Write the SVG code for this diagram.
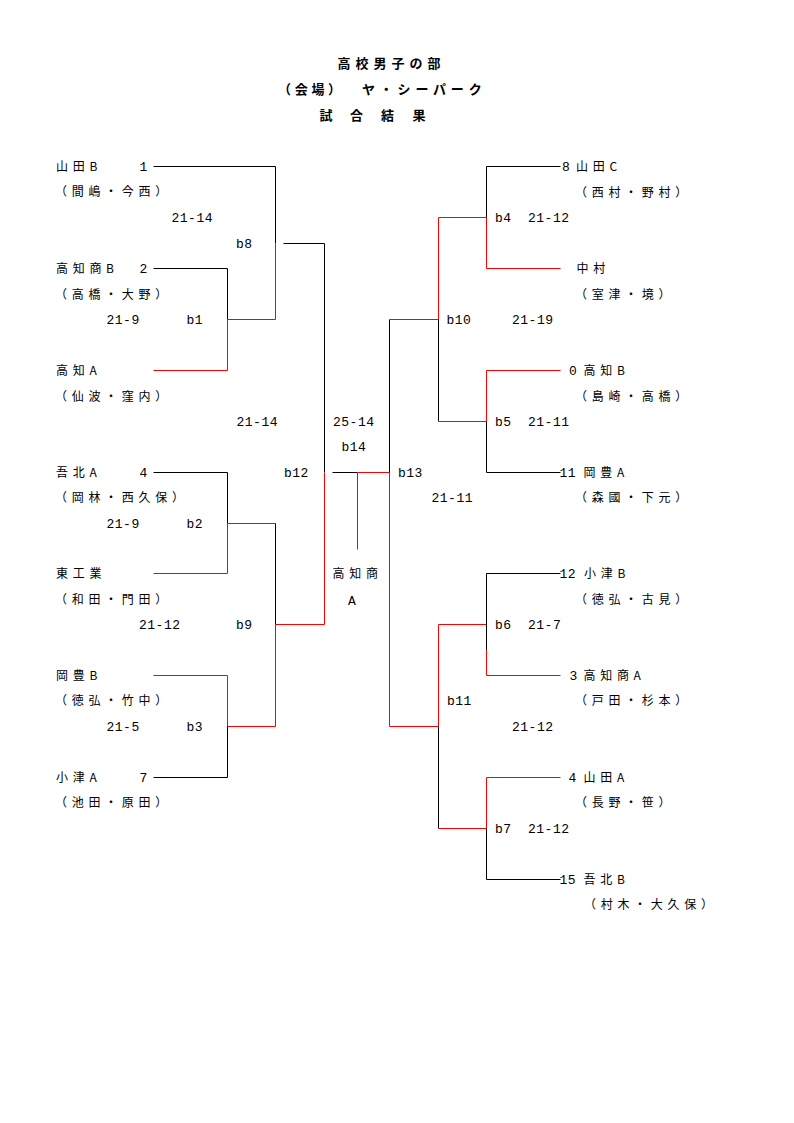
<svg xmlns="http://www.w3.org/2000/svg" width="794" height="1123" viewBox="0 0 794 1123">
<style>
.t{font-family:"Noto Sans CJK JP","Noto Sans CJK SC",sans-serif;font-size:12px;letter-spacing:4.7px;fill:#000}
.n{font-family:"Liberation Mono","DejaVu Sans Mono",monospace;font-size:13px;letter-spacing:0.5px;fill:#000}
.h{font-family:"Noto Sans CJK JP","Noto Sans CJK SC",sans-serif;font-size:13px;font-weight:bold;fill:#000}
.k{fill:none;stroke:#000;stroke-width:1}
.r{fill:none;stroke:#ff0000;stroke-width:1}
</style>
<rect width="794" height="1123" fill="#fff"/>
<g id="title">
<text class="h" x="337.5" y="67.5" letter-spacing="5">高校男子の部</text>
<text class="h" x="278" y="93.5" letter-spacing="3.7">（会場）</text>
<text class="h" x="362" y="93.5" letter-spacing="4.8">ヤ・シーパーク</text>
<text class="h" x="319.5 350 381 412.5" y="119.5">試合結果</text>
</g>
<g id="connectors" transform="translate(0.5,0.5)">
<path class="k" d="M153 166H275V243"/>
<path class="r" d="M275 243V319H227"/>
<path class="k" d="M153 268H227V319"/>
<path class="r" d="M227 319V370H153"/>
<path class="k" d="M283 243H324V472"/>
<path class="r" d="M324 472V624H275"/>
<path class="k" d="M153 472H227V523"/>
<path class="r" d="M153 573H227V523H275"/>
<path class="k" d="M275 523V624"/>
<path class="r" d="M153 675H227V726H275V624"/>
<path class="k" d="M227 726V777H153"/>
<path class="k" d="M332 472H357"/>
<path class="r" d="M357 549V472H389V726H438V624H486V675H560"/>
<path class="k" d="M389 472V319"/>
<path class="r" d="M389 319H438V217H486V268H560"/>
<path class="k" d="M560 166H486V217"/>
<path class="k" d="M438 319V421"/>
<path class="r" d="M438 421H486V370H560"/>
<path class="k" d="M486 421V472H560"/>
<path class="k" d="M560 573H486V649"/>
<path class="k" d="M438 726V828"/>
<path class="r" d="M438 828H486V777H560"/>
<path class="k" d="M486 828V879H560"/>
</g>
<g id="team-yamadaB"><text class="t" x="56" y="170.5">山田B</text><text class="n" x="139.5" y="170.5">1</text><text class="t" x="55" y="195.5">（間嶋・今西）</text></g>
<g id="team-kochishoB"><text class="t" x="56" y="272.5">高知商B</text><text class="n" x="139.5" y="272.5">2</text><text class="t" x="55" y="298.5">（高橋・大野）</text></g>
<g id="team-kochiA"><text class="t" x="56" y="374.5">高知A</text><text class="t" x="55" y="400.5">（仙波・窪内）</text></g>
<g id="team-gohokuA"><text class="t" x="56" y="476.5">吾北A</text><text class="n" x="139.5" y="476.5">4</text><text class="t" x="55" y="501.5">（岡林・西久保）</text></g>
<g id="team-higashikogyo"><text class="t" x="56" y="577.5">東工業</text><text class="t" x="55" y="603.5">（和田・門田）</text></g>
<g id="team-okohoB"><text class="t" x="56" y="679.5">岡豊B</text><text class="t" x="55" y="704.5">（徳弘・竹中）</text></g>
<g id="team-ozuA"><text class="t" x="56" y="781.5">小津A</text><text class="n" x="139.5" y="781.5">7</text><text class="t" x="55" y="806.5">（池田・原田）</text></g>
<g id="team-yamadaC"><text class="n" x="562" y="170.5">8</text><text class="t" x="576" y="170.5">山田C</text><text class="t" x="575" y="196.5">（西村・野村）</text></g>
<g id="team-nakamura"><text class="t" x="576.5" y="272.5">中村</text><text class="t" x="575" y="298.5">（室津・境）</text></g>
<g id="team-kochiB"><text class="n" x="569" y="374.5">0</text><text class="t" x="583.5" y="374.5">高知B</text><text class="t" x="575" y="400.5">（島崎・高橋）</text></g>
<g id="team-okohoA"><text class="n" x="559.5" y="476.5">11</text><text class="t" x="583.5" y="476.5">岡豊A</text><text class="t" x="575" y="501.5">（森國・下元）</text></g>
<g id="team-ozuB"><text class="n" x="559.5" y="577.5">12</text><text class="t" x="584" y="577.5">小津B</text><text class="t" x="575" y="603.5">（徳弘・古見）</text></g>
<g id="team-kochishoA"><text class="n" x="569.5" y="679.5">3</text><text class="t" x="583.5" y="679.5">高知商A</text><text class="t" x="575" y="704.5">（戸田・杉本）</text></g>
<g id="team-yamadaA"><text class="n" x="568.5" y="781.5">4</text><text class="t" x="583.5" y="781.5">山田A</text><text class="t" x="575" y="806.5">（長野・笹）</text></g>
<g id="team-gohokuB"><text class="n" x="559.5" y="883.5">15</text><text class="t" x="583.5" y="883.5">吾北B</text><text class="t" x="584" y="908.5">（村木・大久保）</text></g>
<g id="champion"><text class="t" x="332.5" y="577.5">高知商</text><text class="n" x="348" y="604.5">A</text></g>
<g id="match-b1"><text class="n" x="106.5" y="323.5">21-9</text><text class="n" x="186.5" y="323.5">b1</text></g>
<g id="match-b2"><text class="n" x="106.5" y="527.5">21-9</text><text class="n" x="186.5" y="527.5">b2</text></g>
<g id="match-b3"><text class="n" x="106.5" y="730.5">21-5</text><text class="n" x="186.5" y="730.5">b3</text></g>
<g id="match-b8"><text class="n" x="171.5" y="221.5">21-14</text><text class="n" x="236" y="247.5">b8</text></g>
<g id="match-b9"><text class="n" x="139" y="628.5">21-12</text><text class="n" x="236" y="628.5">b9</text></g>
<g id="match-b12"><text class="n" x="236.5" y="425.5">21-14</text><text class="n" x="284" y="476.5">b12</text></g>
<g id="match-b14"><text class="n" x="333" y="425.5">25-14</text><text class="n" x="341.5" y="450.5">b14</text></g>
<g id="match-b13"><text class="n" x="398" y="476.5">b13</text><text class="n" x="431.5" y="501.5">21-11</text></g>
<g id="match-b4"><text class="n" x="495" y="221.5">b4</text><text class="n" x="528" y="221.5">21-12</text></g>
<g id="match-b10"><text class="n" x="446.5" y="323.5">b10</text><text class="n" x="512" y="323.5">21-19</text></g>
<g id="match-b5"><text class="n" x="495" y="425.5">b5</text><text class="n" x="528" y="425.5">21-11</text></g>
<g id="match-b6"><text class="n" x="495" y="628.5">b6</text><text class="n" x="528" y="628.5">21-7</text></g>
<g id="match-b11"><text class="n" x="447" y="704.5">b11</text><text class="n" x="512" y="730.5">21-12</text></g>
<g id="match-b7"><text class="n" x="495" y="832.5">b7</text><text class="n" x="528" y="832.5">21-12</text></g>
</svg>
